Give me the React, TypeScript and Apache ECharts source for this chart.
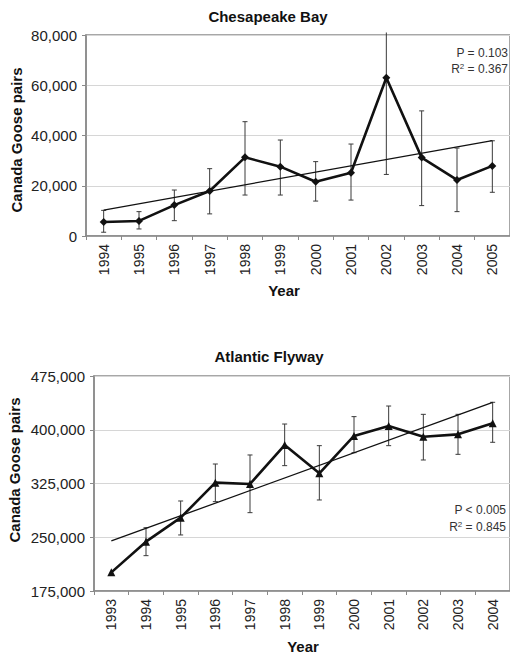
import React, { useEffect, useRef } from "react";
import * as echarts from "echarts";

// ---- Chesapeake Bay ----
const cbYears = ["1994", "1995", "1996", "1997", "1998", "1999", "2000", "2001", "2002", "2003", "2004", "2005"];
const cbMean = [5600, 6000, 12300, 17900, 31300, 27600, 21600, 25200, 63000, 31200, 22300, 27900];
const cbLow = [1500, 2800, 6100, 8800, 16300, 16300, 13900, 14300, 24500, 12100, 9700, 17400];
const cbHigh = [10200, 9700, 18300, 26800, 45500, 38200, 29600, 36600, 81000, 49800, 35000, 37900];
const cbTrend = [10300, 38000];
const cbTicks = [0, 20000, 40000, 60000, 80000];

// ---- Atlantic Flyway ----
const afYears = ["1993", "1994", "1995", "1996", "1997", "1998", "1999", "2000", "2001", "2002", "2003", "2004"];
const afMean = [201000, 243800, 277300, 326200, 324300, 378700, 339200, 391300, 405200, 390300, 393600, 409000];
const afLow = [null, 224300, 253200, 299700, 284300, 349900, 302000, 368000, 377800, 357800, 365700, 382500];
const afHigh = [null, 263300, 300600, 352200, 364800, 408000, 377800, 418300, 433100, 421500, 421500, 438300];
const afTrend = [244800, 438300];
const afTicks = [175000, 250000, 325000, 400000, 475000];

const FONT = '"Liberation Sans", Arial, sans-serif';

export default function App() {
  const ref = useRef<HTMLDivElement>(null);
  useEffect(() => {
    if (!ref.current) return;
    const chart = echarts.init(ref.current, null, { renderer: "svg" });

    const afBase = afTicks[0];
    const afStep = afTicks[1] - afTicks[0];
    const cbMax = cbTicks[cbTicks.length - 1];

    const errItem = (base: number, yMax: number) => (params: any, api: any) => {
      const lo = api.value(1);
      const hi = api.value(2);
      if (lo == null || hi == null || isNaN(lo) || isNaN(hi)) return null;
      const pLo = api.coord([api.value(0), lo]);
      const pHi = api.coord([api.value(0), hi]);
      const st = { stroke: "#3a3a3a", lineWidth: 1 };
      const children: any[] = [
        { type: "line", shape: { x1: pLo[0], y1: pLo[1], x2: pHi[0], y2: pHi[1] }, style: st },
        { type: "line", shape: { x1: pLo[0] - 2.5, y1: pLo[1], x2: pLo[0] + 2.5, y2: pLo[1] }, style: st },
      ];
      if (hi + base <= yMax) {
        children.push({ type: "line", shape: { x1: pHi[0] - 2.5, y1: pHi[1], x2: pHi[0] + 2.5, y2: pHi[1] }, style: st });
      }
      return { type: "group", children };
    };

    const xAxisCommon = {
      type: "category",
      boundaryGap: true,
      axisLine: { lineStyle: { color: "#8a8a8a", width: 1.5 } },
      axisTick: { show: true, alignWithLabel: false, length: 4, lineStyle: { color: "#8a8a8a" } },
      axisLabel: { rotate: 90, fontSize: 14, color: "#222", fontFamily: FONT, margin: 8, interval: 0 },
      splitLine: { show: false },
    };
    const yAxisCommon = {
      type: "value",
      axisLine: { show: true, lineStyle: { color: "#8a8a8a", width: 1.5 } },
      axisTick: { show: true, length: 4, lineStyle: { color: "#8a8a8a" } },
      splitLine: { show: true, lineStyle: { color: "#d6d6d6", width: 1 } },
    };

    const option: any = {
      animation: false,
      backgroundColor: "#ffffff",
      grid: [
        { left: 86, top: 35, right: -4, height: 201, show: true, borderColor: "#8a8a8a", borderWidth: 1.5, backgroundColor: "transparent" },
        { left: 94, top: 376, right: -3, height: 215, show: true, borderColor: "#8a8a8a", borderWidth: 1.5, backgroundColor: "transparent" },
      ],
      xAxis: [
        { ...xAxisCommon, gridIndex: 0, data: cbYears },
        { ...xAxisCommon, gridIndex: 1, data: afYears },
      ],
      yAxis: [
        {
          ...yAxisCommon,
          gridIndex: 0,
          min: cbTicks[0],
          max: cbMax,
          interval: cbTicks[1] - cbTicks[0],
          axisLabel: {
            fontSize: 15, color: "#222", fontFamily: FONT, margin: 9,
            formatter: (v: number) => v.toLocaleString("en-US"),
          },
        },
        {
          ...yAxisCommon,
          gridIndex: 1,
          min: 0,
          max: afTicks[afTicks.length - 1] - afBase,
          interval: afStep,
          axisLabel: {
            fontSize: 15, color: "#222", fontFamily: FONT, margin: 9,
            formatter: (v: number) => (v + afBase).toLocaleString("en-US"),
          },
        },
      ],
      series: [
        // Chesapeake Bay
        {
          type: "custom",
          xAxisIndex: 0, yAxisIndex: 0,
          clip: false,
          renderItem: errItem(0, cbMax),
          data: cbYears.map((y, i) => [i, cbLow[i], cbHigh[i]]),
          z: 2,
        },
        {
          type: "line",
          xAxisIndex: 0, yAxisIndex: 0,
          data: [[cbYears[0], cbTrend[0]], [cbYears[cbYears.length - 1], cbTrend[1]]],
          symbol: "none",
          lineStyle: { color: "#111", width: 1.3 },
          z: 3,
        },
        {
          type: "line",
          xAxisIndex: 0, yAxisIndex: 0,
          data: cbMean,
          symbol: "diamond",
          symbolSize: 8,
          itemStyle: { color: "#111" },
          lineStyle: { color: "#111", width: 2.6 },
          z: 4,
        },
        // Atlantic Flyway
        {
          type: "custom",
          xAxisIndex: 1, yAxisIndex: 1,
          clip: false,
          renderItem: errItem(afBase, afTicks[afTicks.length - 1]),
          data: afYears.map((y, i) => [i, afLow[i] == null ? null : (afLow[i] as number) - afBase, afHigh[i] == null ? null : (afHigh[i] as number) - afBase]),
          z: 2,
        },
        {
          type: "line",
          xAxisIndex: 1, yAxisIndex: 1,
          data: [[afYears[0], afTrend[0] - afBase], [afYears[afYears.length - 1], afTrend[1] - afBase]],
          symbol: "none",
          lineStyle: { color: "#111", width: 1.3 },
          z: 3,
        },
        {
          type: "line",
          xAxisIndex: 1, yAxisIndex: 1,
          data: afMean.map((v) => v - afBase),
          symbol: "triangle",
          symbolSize: 8,
          itemStyle: { color: "#111" },
          lineStyle: { color: "#111", width: 2.6 },
          z: 4,
        },
      ],
      graphic: [
        { type: "text", x: 268, y: 16, style: { text: "Chesapeake Bay", font: `bold 15px ${FONT}`, fill: "#111", align: "center", verticalAlign: "middle" } },
        { type: "text", x: 269, y: 356, style: { text: "Atlantic Flyway", font: `bold 15px ${FONT}`, fill: "#111", align: "center", verticalAlign: "middle" } },
        { type: "text", x: 284, y: 290, style: { text: "Year", font: `bold 15px ${FONT}`, fill: "#111", align: "center", verticalAlign: "middle" } },
        { type: "text", x: 303, y: 646, style: { text: "Year", font: `bold 15px ${FONT}`, fill: "#111", align: "center", verticalAlign: "middle" } },
        { type: "text", x: 16, y: 140, rotation: Math.PI / 2, style: { text: "Canada Goose pairs", font: `bold 15px ${FONT}`, fill: "#111", align: "center", verticalAlign: "middle" } },
        { type: "text", x: 14, y: 470, rotation: Math.PI / 2, style: { text: "Canada Goose pairs", font: `bold 15px ${FONT}`, fill: "#111", align: "center", verticalAlign: "middle" } },
        { type: "text", x: 508, y: 53, style: { text: "P = 0.103", font: `12px ${FONT}`, fill: "#333", align: "right", verticalAlign: "middle" } },
        {
          type: "text", x: 508, y: 69,
          style: {
            text: "{a|R}{s|2}{a| = 0.367}", align: "right", verticalAlign: "middle", fill: "#333",
            rich: { a: { fontSize: 12, fontFamily: FONT, fill: "#333" }, s: { fontSize: 8, fontFamily: FONT, fill: "#333", padding: [0, 0, 6, 0] } },
          },
        },
        { type: "text", x: 506, y: 510, style: { text: "P < 0.005", font: `12px ${FONT}`, fill: "#333", align: "right", verticalAlign: "middle" } },
        {
          type: "text", x: 506, y: 527,
          style: {
            text: "{a|R}{s|2}{a| = 0.845}", align: "right", verticalAlign: "middle", fill: "#333",
            rich: { a: { fontSize: 12, fontFamily: FONT, fill: "#333" }, s: { fontSize: 8, fontFamily: FONT, fill: "#333", padding: [0, 0, 6, 0] } },
          },
        },
      ],
    };
    chart.setOption(option);
    return () => chart.dispose();
  }, []);
  return <div ref={ref} style={{ position: "fixed", left: 0, top: 0, width: 510, height: 656 }} />;
}
